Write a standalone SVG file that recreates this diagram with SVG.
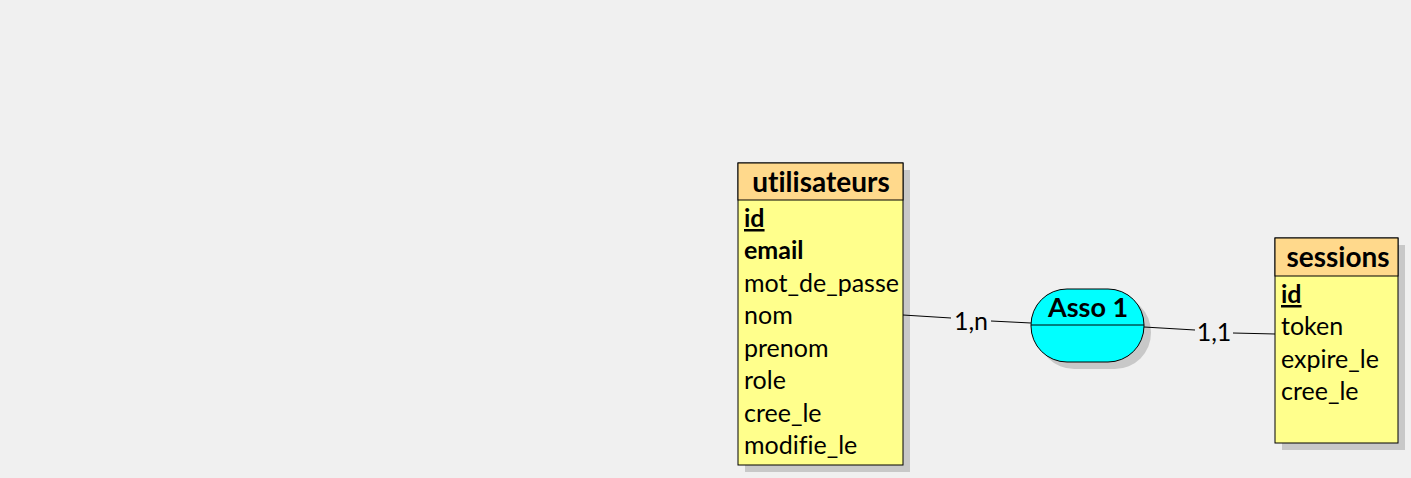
<svg xmlns="http://www.w3.org/2000/svg" width="1411" height="478" viewBox="0 0 1411 478">
<style>
text{font-variant-ligatures:none}
.shadow{fill:#c8c8c8}
.head{fill:#ffd98c;stroke:#000;stroke-width:1}
.body{fill:#ffff8c;stroke:#000;stroke-width:1}
.title{font-family:Lato,"Liberation Sans",sans-serif;font-weight:bold;font-size:28px;text-anchor:middle;fill:#000}
.attr{font-family:Lato,"Liberation Sans",sans-serif;font-size:25px;fill:#000}
.key{font-weight:bold;text-decoration:underline}
.bold{font-weight:bold}
.conn{stroke:#000;stroke-width:1;fill:none}
.card{font-family:Lato,"Liberation Sans",sans-serif;font-size:25px;fill:#000;text-anchor:middle}
</style>
<rect width="1411" height="478" fill="#f0f0f0"/>
<g id="utilisateurs">
<rect class="shadow" x="745" y="170" width="165" height="302"/>
<rect class="body" x="738" y="163" width="165" height="302"/>
<rect class="head" x="738" y="163" width="165" height="37"/>
<text class="title" x="821" y="192">utilisateurs</text>
<text class="attr key" x="744" y="227">id</text>
<text class="attr bold" x="744" y="259">email</text>
<text class="attr" x="744" y="292">mot_de_passe</text>
<text class="attr" x="744" y="324">nom</text>
<text class="attr" x="744" y="357">prenom</text>
<text class="attr" x="744" y="389">role</text>
<text class="attr" x="744" y="422">cree_le</text>
<text class="attr" x="744" y="454">modifie_le</text>
</g>
<g id="asso1">
<rect class="shadow" x="1038" y="296" width="113" height="73" rx="36" ry="36"/>
<rect x="1031" y="289" width="113" height="73" rx="36" ry="36" fill="#00ffff" stroke="#000" stroke-width="1"/>
<line class="conn" x1="1031" y1="325" x2="1144" y2="325"/>
<text class="title" x="1088" y="317" style="font-size:27px">Asso 1</text>
</g>
<g id="sessions">
<rect class="shadow" x="1282" y="245" width="123" height="205"/>
<rect class="body" x="1275" y="238" width="123" height="205"/>
<rect class="head" x="1275" y="238" width="123" height="38"/>
<text class="title" x="1338" y="267">sessions</text>
<text class="attr key" x="1281" y="303">id</text>
<text class="attr" x="1281" y="335">token</text>
<text class="attr" x="1281" y="368">expire_le</text>
<text class="attr" x="1281" y="400">cree_le</text>
</g>
<g id="connectors">
<line class="conn" x1="903" y1="315" x2="951" y2="318"/>
<line class="conn" x1="991" y1="321" x2="1031" y2="323"/>
<text class="card" x="971" y="330">1,n</text>
<line class="conn" x1="1144" y1="327" x2="1195" y2="330"/>
<line class="conn" x1="1233" y1="333" x2="1275" y2="334"/>
<text class="card" x="1214" y="341">1,1</text>
</g>
</svg>
